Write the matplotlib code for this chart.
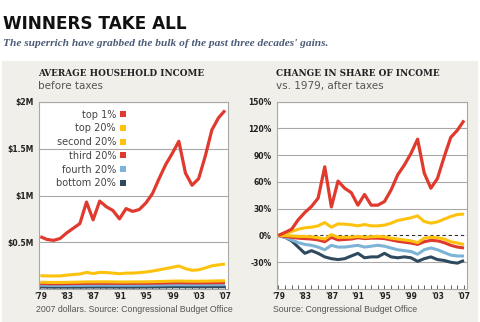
import matplotlib
matplotlib.use("Agg")
import matplotlib.pyplot as plt
from matplotlib.lines import Line2D
from matplotlib.patches import Rectangle

years = list(range(1979, 2008))

# Average household income before taxes, millions of 2007 dollars
inc_top1 = [0.56, 0.53, 0.52, 0.54, 0.60, 0.65, 0.70, 0.93, 0.74, 0.94, 0.88, 0.84, 0.75, 0.86,
            0.83, 0.85, 0.92, 1.02, 1.18, 1.33, 1.45, 1.58, 1.24, 1.11, 1.18, 1.42, 1.70, 1.83, 1.91]
inc_top20 = [0.142, 0.140, 0.139, 0.140, 0.148, 0.155, 0.160, 0.178, 0.165, 0.178, 0.176, 0.170, 0.163, 0.170,
             0.170, 0.175, 0.182, 0.192, 0.205, 0.218, 0.232, 0.246, 0.218, 0.200, 0.205, 0.225, 0.248, 0.258, 0.267]
inc_second = [0.072, 0.071, 0.070, 0.070, 0.071, 0.073, 0.074, 0.076, 0.076, 0.077, 0.077, 0.076, 0.075, 0.075,
              0.076, 0.076, 0.077, 0.078, 0.080, 0.082, 0.084, 0.085, 0.084, 0.083, 0.083, 0.084, 0.085, 0.087, 0.088]
inc_third = [0.058, 0.057, 0.056, 0.056, 0.057, 0.058, 0.059, 0.060, 0.060, 0.061, 0.061, 0.060, 0.060, 0.060,
             0.060, 0.061, 0.061, 0.062, 0.063, 0.065, 0.066, 0.067, 0.066, 0.065, 0.065, 0.066, 0.066, 0.067, 0.068]
inc_fourth = [0.040, 0.039, 0.038, 0.038, 0.038, 0.039, 0.039, 0.040, 0.040, 0.041, 0.041, 0.040, 0.040, 0.040,
              0.040, 0.041, 0.041, 0.042, 0.043, 0.044, 0.045, 0.046, 0.045, 0.045, 0.045, 0.045, 0.046, 0.046, 0.047]
inc_bottom = [0.022, 0.021, 0.020, 0.020, 0.020, 0.020, 0.020, 0.021, 0.021, 0.021, 0.021, 0.021, 0.020, 0.020,
              0.020, 0.021, 0.021, 0.022, 0.022, 0.023, 0.024, 0.024, 0.024, 0.023, 0.023, 0.023, 0.024, 0.024, 0.024]

# Change in share of after-tax income vs. 1979, percent
sh_top1 = [0, 3.4, 7, 17.6, 25.8, 32.5, 41.9, 77, 32, 61, 53, 48, 34, 46,
           34, 34, 38, 51, 68, 79, 92, 108, 70, 53, 64, 88, 110, 118, 129]
sh_top20 = [0, 1.9, 4.5, 7, 8.6, 9.3, 10.8, 14.5, 9.3, 13, 12.7, 12, 10.8, 12.3,
            10.8, 10.8, 11.6, 13.8, 16.8, 18.3, 19.8, 22, 15.7, 13.8, 15.3, 18.3, 21.3, 23.5, 24]
sh_second = [0, 0, -0.5, -1, -1, -1.5, -2.5, -4, 1, -2, -2, -2, -1, -2,
             -1.5, -1, -1.5, -3, -4, -5, -6, -8, -3, -2, -2.5, -4, -7, -8.5, -10]
sh_third = [0, -1, -2, -3, -3.5, -4, -5, -7, -2, -5, -4.5, -4, -2.5, -3.5,
            -3, -3, -3.5, -5, -6.5, -7.5, -8.5, -10, -7, -5.5, -6, -8, -11, -13, -14]
sh_fourth = [0, -2, -5, -8, -10, -11, -13, -16, -11, -13, -13, -12, -11, -13,
             -12, -11, -12, -14, -16, -17, -18, -21, -16, -14, -16, -19, -22, -23, -23]
sh_bottom = [0, -2, -6, -13, -20, -17, -20, -24, -26, -27, -26, -23, -20, -25,
             -24, -24, -20, -24, -25, -24, -25, -29, -26, -24, -27, -28, -30, -31, -28]

labels = ["top 1%", "top 20%", "second 20%", "third 20%", "fourth 20%", "bottom 20%"]
xtick_years = [1979, 1983, 1987, 1991, 1995, 1999, 2003, 2007]
xtick_labels = ["'79", "'83", "'87", "'91", "'95", "'99", "'03", "'07"]
left_ticks = [0.5, 1.0, 1.5, 2.0]
left_ticklabels = ["$0.5M", "$1M", "$1.5M", "$2M"]
right_ticks = [-30, 0, 30, 60, 90, 120, 150]
right_ticklabels = ["-30%", "0%", "30%", "60%", "90%", "120%", "150%"]

RED = "#e0392d"
YEL = "#fdc20e"
LBLUE = "#7db3d6"
DARK = "#2f4a5f"
colors = [RED, YEL, YEL, RED, LBLUE, DARK]
PANEL = "#f1efea"

fig = plt.figure(figsize=(4.8, 3.22), dpi=100)
W, H = 480.0, 322.0

# grey panel background
fig.patches.append(Rectangle((2 / W, 0), 476 / W, (H - 61) / H, transform=fig.transFigure,
                             facecolor=PANEL, edgecolor="none", zorder=-10))

fig.text(3 / W, 1 - 24 / H, "WINNERS TAKE ALL", fontsize=12.2, fontweight="bold",
         family="DejaVu Sans", color="#111111", va="center", ha="left")
fig.text(3 / W, 1 - 44 / H, "The superrich have grabbed the bulk of the past three decades' gains.",
         fontsize=8.2, fontweight="bold", style="italic", family="Liberation Serif",
         color="#4c5c78", va="center", ha="left")

ax1 = fig.add_axes([39 / W, (H - 289) / H, 189 / W, 187 / H])
ax2 = fig.add_axes([277 / W, (H - 289) / H, 190 / W, 187.3 / H])


def style(ax):
    ax.set_facecolor("white")
    for s in ax.spines.values():
        s.set_color("#a8a8a8")
        s.set_linewidth(0.8)
    ax.set_xlim(1978.8, 2007.45)
    ax.set_xticks(years, minor=True)
    ax.set_xticks(xtick_years)
    ax.set_xticklabels(xtick_labels, fontsize=5.5, fontweight="bold", color="#222222")
    ax.tick_params(axis="x", which="both", direction="in", length=3, color="#444444", width=0.6, pad=2)
    ax.tick_params(axis="y", length=0, pad=4, labelsize=5.5, labelcolor="#222222")
    ax.grid(axis="y", color="#a8a8a8", linewidth=0.8)
    ax.set_axisbelow(True)


# Left chart
series_inc = [inc_top1, inc_top20, inc_second, inc_third, inc_fourth, inc_bottom]
order = [5, 4, 3, 2, 1, 0]
for i in order:
    ax1.plot(years, series_inc[i], color=colors[i], lw=2.3 if i == 0 else 2.2,
             solid_capstyle="butt", zorder=3 + (5 - i))
ax1.set_ylim(0, 2.0)
ax1.set_yticks(left_ticks)
ax1.set_yticklabels(left_ticklabels)
style(ax1)
for t in ax1.get_yticklabels():
    t.set_fontweight("bold")

handles = [Line2D([], [], linestyle="none", marker="s", markersize=4, color=c, markeredgewidth=0)
           for c in colors]
leg = ax1.legend(handles, labels, loc="upper left", bbox_to_anchor=(0.05, 1.0), frameon=False,
                 markerfirst=False, fontsize=7, handlelength=0.6, handletextpad=0.4,
                 labelspacing=0.38, labelcolor="#444444", borderpad=0.3)

# Right chart
series_sh = [sh_top1, sh_top20, sh_second, sh_third, sh_fourth, sh_bottom]
for i in order:
    ax2.plot(years, series_sh[i], color=colors[i], lw=2.3 if i == 0 else 2.2,
             solid_capstyle="butt", zorder=3 + (5 - i))
ax2.axhline(0, color="#333333", lw=0.8, ls=(0, (3, 2.5)), zorder=2.5)
ax2.set_ylim(-60, 150)
ax2.set_yticks(right_ticks)
ax2.set_yticklabels(right_ticklabels)
style(ax2)
for t in ax2.get_yticklabels():
    t.set_fontweight("bold")
for gl, v in zip(ax2.get_ygridlines(), right_ticks):
    if v == 0:
        gl.set_visible(False)

# panel titles
fig.text(38 / W, 1 - 74 / H, "AVERAGE HOUSEHOLD INCOME", fontsize=6.4, fontweight="bold",
         family="DejaVu Serif", color="#222222", va="center", ha="left")
fig.text(38 / W, 1 - 86.5 / H, "before taxes", fontsize=7.5, family="DejaVu Sans",
         color="#555555", va="center", ha="left")
fig.text(276 / W, 1 - 74 / H, "CHANGE IN SHARE OF INCOME", fontsize=6.4, fontweight="bold",
         family="DejaVu Serif", color="#222222", va="center", ha="left")
fig.text(276 / W, 1 - 86.5 / H, "vs. 1979, after taxes", fontsize=7.5, family="DejaVu Sans",
         color="#555555", va="center", ha="left")

# footers
fig.text(36 / W, 1 - 309 / H, "2007 dollars. Source: Congressional Budget Office", fontsize=6.3,
         family="Liberation Sans", color="#555555", va="center", ha="left")
fig.text(273 / W, 1 - 309 / H, "Source: Congressional Budget Office", fontsize=6.3,
         family="Liberation Sans", color="#555555", va="center", ha="left")

fig.savefig("out.png", dpi=100)
